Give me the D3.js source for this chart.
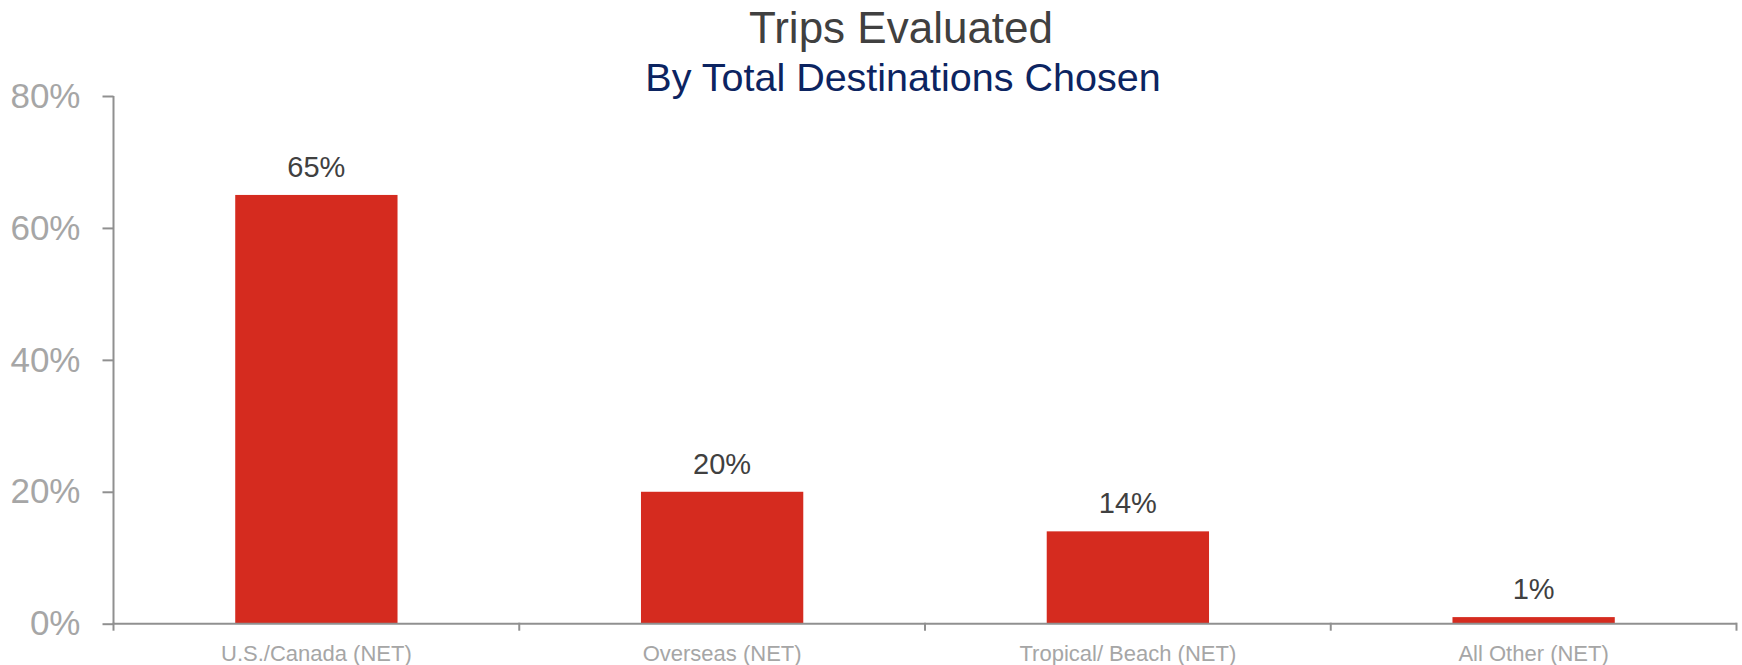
<!DOCTYPE html>
<html>
<head>
<meta charset="utf-8">
<script src="https://cdn.jsdelivr.net/npm/d3@7"></script>
<style>
  html, body { margin: 0; padding: 0; background: #ffffff; }
  svg { display: block; }
  text { font-family: "Liberation Sans", Arial, sans-serif; }
</style>
</head>
<body>
<svg id="chart" width="1742" height="665"></svg>
<script>
const categories = ["U.S./Canada (NET)", "Overseas (NET)", "Tropical/ Beach (NET)", "All Other (NET)"];
const values = [65, 20, 14, 1];
const yTicks = [0, 20, 40, 60, 80];
const title = "Trips Evaluated";
const subtitle = "By Total Destinations Chosen";

const W = 1742, H = 665;
const margin = { left: 113.5, right: 5.5, top: 96, bottom: 41.3 };
const svg = d3.select("#chart");

const x = d3.scaleBand()
  .domain(categories)
  .range([margin.left, W - margin.right])
  .paddingInner(0.6)
  .paddingOuter(0.3);

const y = d3.scaleLinear()
  .domain([0, 80])
  .range([H - margin.bottom, margin.top]);

const axisColor = "#909090";

// Bars
svg.append("g").selectAll("rect")
  .data(values)
  .join("rect")
  .attr("x", (d, i) => x(categories[i]))
  .attr("width", x.bandwidth())
  .attr("y", d => y(d))
  .attr("height", d => y(0) - y(d))
  .attr("fill", "#d52b1f");

// Value labels
svg.append("g").selectAll("text")
  .data(values)
  .join("text")
  .attr("x", (d, i) => x(categories[i]) + x.bandwidth() / 2)
  .attr("y", d => y(d) - 18)
  .attr("text-anchor", "middle")
  .attr("font-size", 29)
  .attr("fill", "#404040")
  .text(d => d + "%");

// Y axis
const yAxis = d3.axisLeft(y)
  .tickValues(yTicks)
  .tickFormat(d => d + "%")
  .tickSize(11)
  .tickPadding(22);
const gy = svg.append("g")
  .attr("transform", `translate(${margin.left},0)`)
  .call(yAxis);
gy.select(".domain").remove();
gy.append("line")
  .attr("x1", 0).attr("x2", 0)
  .attr("y1", y(80)).attr("y2", y(0))
  .attr("stroke", axisColor).attr("stroke-width", 2);
gy.selectAll(".tick line").attr("stroke", axisColor).attr("stroke-width", 2);
gy.selectAll(".tick text")
  .attr("font-size", 35)
  .attr("fill", "#a6a6a6")
  .attr("font-family", "'Liberation Sans', Arial, sans-serif");

// X axis (category boundaries as ticks)
const gx = svg.append("g")
  .attr("transform", `translate(0,${y(0)})`);
gx.append("line")
  .attr("x1", x.range()[0]).attr("x2", x.range()[1])
  .attr("y1", 0).attr("y2", 0)
  .attr("stroke", axisColor).attr("stroke-width", 2);
const step = x.step();
const boundaries = d3.range(categories.length + 1).map(i => x.range()[0] + i * (x.range()[1] - x.range()[0]) / categories.length);
gx.selectAll("line.bt")
  .data(boundaries)
  .join("line")
  .attr("class", "bt")
  .attr("x1", d => d).attr("x2", d => d)
  .attr("y1", -1).attr("y2", 7)
  .attr("stroke", axisColor).attr("stroke-width", 2);
gx.selectAll("text")
  .data(categories)
  .join("text")
  .attr("x", d => x(d) + x.bandwidth() / 2)
  .attr("y", 37)
  .attr("text-anchor", "middle")
  .attr("font-size", 22)
  .attr("fill", "#a6a6a6")
  .text(d => d);

// Titles
svg.append("text")
  .attr("x", 901).attr("y", 43)
  .attr("text-anchor", "middle")
  .attr("font-size", 44)
  .attr("fill", "#404040")
  .text(title);
svg.append("text")
  .attr("x", 903).attr("y", 91)
  .attr("text-anchor", "middle")
  .attr("font-size", 39.5)
  .attr("fill", "#0c2461")
  .text(subtitle);
</script>
</body>
</html>
